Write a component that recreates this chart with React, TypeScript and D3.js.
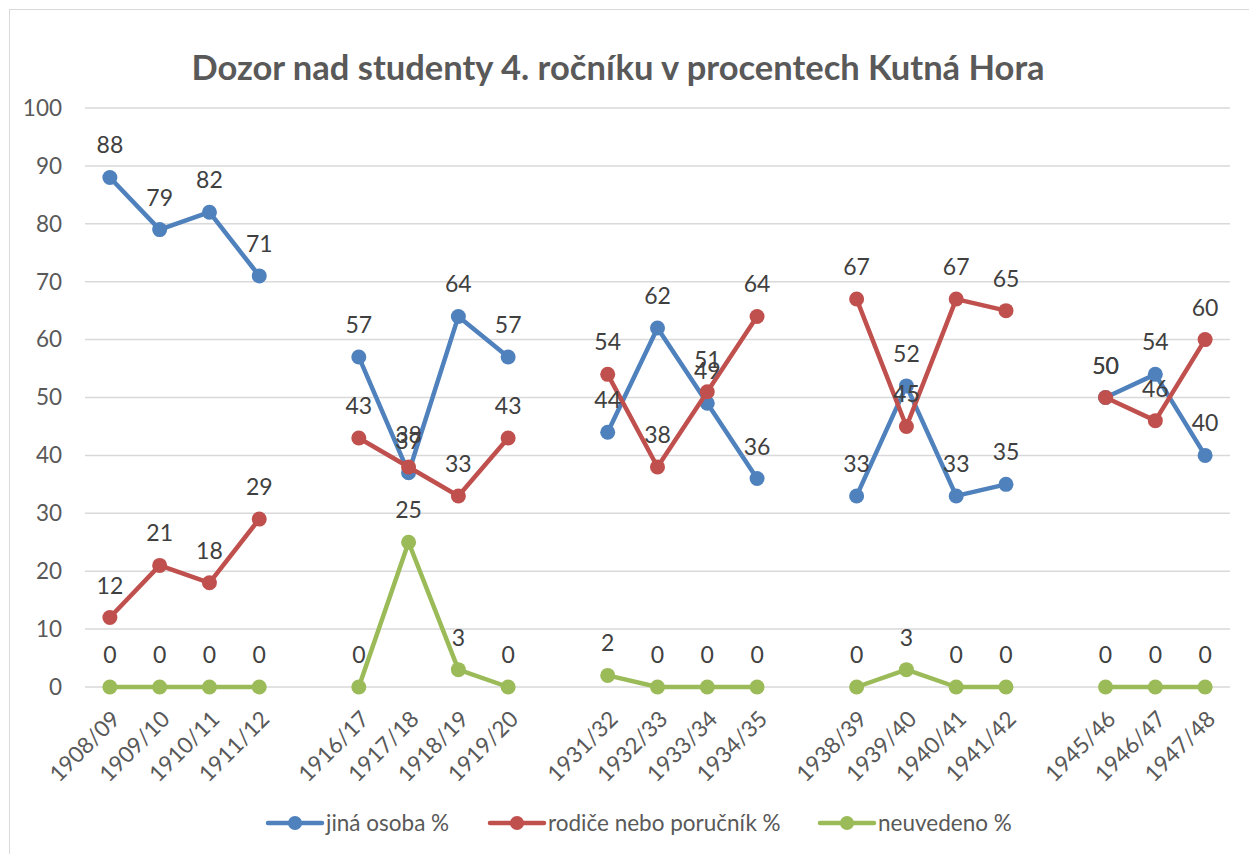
import React from 'react';
import * as d3 from 'd3';

const W = 1249;
const H = 854;
const M = { top: 108, right: 19, bottom: 167, left: 85 };

const CATEGORIES = [
  '1908/09', '1909/10', '1910/11', '1911/12', '',
  '1916/17', '1917/18', '1918/19', '1919/20', ' ',
  '1931/32', '1932/33', '1933/34', '1934/35', '  ',
  '1938/39', '1939/40', '1940/41', '1941/42', '   ',
  '1945/46', '1946/47', '1947/48',
];

const JINA = [88, 79, 82, 71, null, 57, 37, 64, 57, null, 44, 62, 49, 36, null, 33, 52, 33, 35, null, 50, 54, 40];
const RODICE = [12, 21, 18, 29, null, 43, 38, 33, 43, null, 54, 38, 51, 64, null, 67, 45, 67, 65, null, 50, 46, 60];
const NEUVEDENO = [0, 0, 0, 0, null, 0, 25, 3, 0, null, 2, 0, 0, 0, null, 0, 3, 0, 0, null, 0, 0, 0];

const Y_TICKS = [0, 10, 20, 30, 40, 50, 60, 70, 80, 90, 100];

const SERIES = [
  { name: 'jiná osoba %', values: JINA, color: '#4f81bd' },
  { name: 'rodiče nebo poručník %', values: RODICE, color: '#c0504d' },
  { name: 'neuvedeno %', values: NEUVEDENO, color: '#9bbb59' },
];

const FONT = 'Lato, "Open Sans", sans-serif';

export default function App() {
  const x = d3
    .scaleBand()
    .domain(CATEGORIES)
    .range([M.left, W - M.right]);
  const cx = (c: string) => (x(c) ?? 0) + x.bandwidth() / 2;
  const y = d3.scaleLinear().domain([0, 100]).range([H - M.bottom, M.top]);

  const line = d3
    .line<number | null>()
    .defined((d) => d !== null)
    .x((_, i) => cx(CATEGORIES[i]))
    .y((d) => y(d as number));

  // legend item start positions (line start)
  const legendX = [268, 490, 820];

  return (
    <svg
      width={W}
      height={H}
      style={{ position: 'absolute', left: 0, top: 0, fontFamily: FONT }}
    >
      <rect x={0} y={0} width={W} height={H} fill="#fff" />
      <rect x={9.5} y={9.5} width={W + 10} height={H + 10} fill="none" stroke="#d9d9d9" />
      <text x={618} y={80} textAnchor="middle" fontSize={34.5} fontWeight="bold" fill="#595959">
        Dozor nad studenty 4. ročníku v procentech Kutná Hora
      </text>

      {Y_TICKS.map((t) => (
        <g key={`y-${t}`}>
          <line x1={M.left} x2={W - M.right} y1={y(t)} y2={y(t)} stroke="#d9d9d9" strokeWidth={1.5} />
          <text x={62} y={y(t)} dy="0.35em" textAnchor="end" fontSize={22.5} fill="#595959">
            {t}
          </text>
        </g>
      ))}

      {CATEGORIES.map((c) =>
        c.trim() ? (
          <text
            key={`x-${c}`}
            transform={`translate(${cx(c) + 6}, ${y(0) + 28}) rotate(-45)`}
            textAnchor="end"
            dy="0.35em"
            fontSize={22.5}
            fill="#595959"
          >
            {c}
          </text>
        ) : null
      )}

      {SERIES.map((s) => (
        <g key={s.name}>
          <path d={line(s.values) ?? ''} fill="none" stroke={s.color} strokeWidth={4.5} strokeLinejoin="round" />
          {s.values.map((v, i) =>
            v === null ? null : (
              <circle key={i} cx={cx(CATEGORIES[i])} cy={y(v)} r={7.5} fill={s.color} />
            )
          )}
        </g>
      ))}

      {SERIES.map((s) => (
        <g key={`lbl-${s.name}`}>
          {s.values.map((v, i) =>
            v === null ? null : (
              <text
                key={i}
                x={cx(CATEGORIES[i])}
                y={y(v) - 24}
                textAnchor="middle"
                fontSize={23}
                fill="#404040"
              >
                {v}
              </text>
            )
          )}
        </g>
      ))}

      {SERIES.map((s, i) => (
        <g key={`leg-${s.name}`} transform={`translate(${legendX[i]}, 823)`}>
          <line x1={0} x2={54} y1={0} y2={0} stroke={s.color} strokeWidth={4.5} strokeLinecap="round" />
          <circle cx={27} cy={0} r={7} fill={s.color} />
          <text x={58} y={0} dy="0.35em" fontSize={22.5} fill="#595959">
            {s.name}
          </text>
        </g>
      ))}
    </svg>
  );
}
